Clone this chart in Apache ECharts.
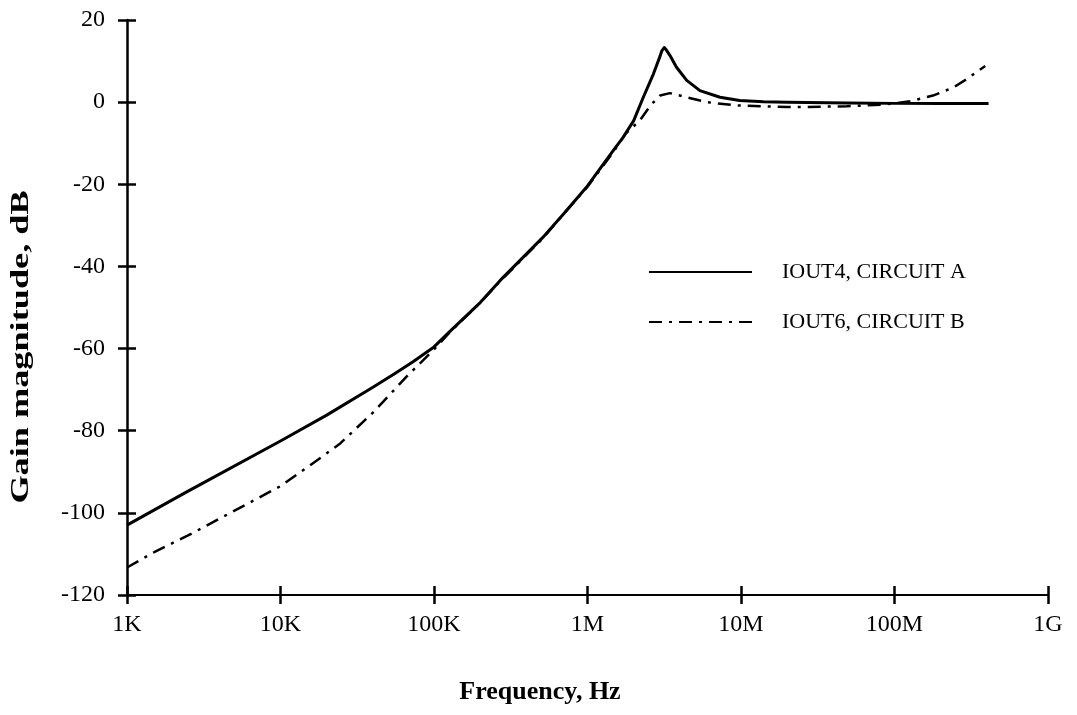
<!DOCTYPE html>
<html>
<head>
<meta charset="utf-8">
<script src="https://cdn.jsdelivr.net/npm/echarts@6/dist/echarts.min.js"></script>
<style>
html,body{margin:0;padding:0;background:#fff;}
#chart{width:1077px;height:715px;}
</style>
</head>
<body>
<div id="chart"></div>
<script>
// ---- data ----
var seriesNames = ['IOUT4, CIRCUIT A', 'IOUT6, CIRCUIT B'];
var xTickLabels = ['1K', '10K', '100K', '1M', '10M', '100M', '1G'];
var yTicks = [-120, -100, -80, -60, -40, -20, 0, 20];

var freqA = [1e3, 2.45e3, 1e4, 2e4, 4e4, 5.5e4, 7.3e4, 1e5, 1.27e5, 2e5, 2.7e5, 5.1e5, 7e5, 1e6, 1.47e6, 1.71e6, 2.0e6, 2.31e6, 2.69e6, 2.97e6, 3.05e6, 3.16e6, 3.25e6, 3.44e6, 3.8e6, 4.43e6, 5.4e6, 7.3e6, 9.8e6, 1.4e7, 2e7, 5e7, 1e8, 2e8, 4.1e8];
var gainA = [-103, -94.9, -82.5, -76.2, -69.4, -66.2, -63.2, -59.6, -55.8, -48.8, -43.4, -33, -27.2, -20.4, -11.8, -8.5, -4.5, 1.2, 6.9, 11.2, 12.5, 13.3, 12.8, 11.4, 8.5, 5.3, 2.8, 1.2, 0.4, 0.1, 0, -0.2, -0.3, -0.3, -0.3];

var freqB = [1e3, 1.55e3, 2.5e3, 1e4, 1.55e4, 2.45e4, 3.55e4, 4e4, 6.6e4, 1e5, 1.27e5, 2e5, 2.7e5, 5.1e5, 7e5, 1e6, 1.47e6, 1.78e6, 2.2e6, 2.57e6, 2.97e6, 3.44e6, 4.2e6, 5.97e6, 9.3e6, 2e7, 2.4e7, 4.9e7, 8.5e7, 1.26e8, 1.78e8, 2.4e8, 2.95e8, 3.9e8];
var gainB = [-113.3, -109.3, -105.5, -93.5, -88.5, -83.1, -77.4, -75.6, -66.9, -60.2, -56, -48.8, -43.6, -33.2, -27.2, -20.6, -12.2, -7.6, -4.4, -0.8, 1.6, 2.2, 1.4, 0, -0.8, -1.2, -1.2, -1.0, -0.6, 0.2, 1.6, 3.5, 5.6, 8.8];

function zip(xs, ys){ var o=[]; for(var i=0;i<xs.length;i++){o.push([xs[i], ys[i]]);} return o; }

var serif = '"Liberation Serif", "Times New Roman", serif';
var chart = echarts.init(document.getElementById('chart'));

var gridCfg = {left:127, right:29, top:20, bottom:120};
var xBase = {type:'log', logBase:10, min:1e3, max:1e9, splitLine:{show:false}, minorTick:{show:false}};
var yBase = {type:'value', min:-120, max:20, interval:20, splitLine:{show:false}};

chart.setOption({
  backgroundColor:'#fff',
  animation:false,
  grid: gridCfg,
  xAxis: [
    Object.assign({}, xBase, {
      position:'bottom',
      axisLine:{show:true, onZero:false, lineStyle:{color:'#000', width:2}},
      axisTick:{show:true, inside:false, length:9, lineStyle:{color:'#000', width:2.5}},
      axisLabel:{show:true, margin:18, color:'#000', fontFamily:serif, fontSize:24,
        formatter:function(v){ var i=Math.round(Math.log10(v))-3; return xTickLabels[i] || ''; }}
    }),
    Object.assign({}, xBase, {
      position:'bottom',
      axisLine:{show:false, onZero:false},
      axisTick:{show:true, inside:true, length:9, lineStyle:{color:'#000', width:2.5}},
      axisLabel:{show:false}
    })
  ],
  yAxis: [
    Object.assign({}, yBase, {
      position:'left',
      axisLine:{show:true, onZero:false, lineStyle:{color:'#000', width:2.5}},
      axisTick:{show:true, inside:false, length:9, lineStyle:{color:'#000', width:2.5}},
      axisLabel:{show:true, margin:22, color:'#000', fontFamily:serif, fontSize:24}
    }),
    Object.assign({}, yBase, {
      position:'left',
      axisLine:{show:false, onZero:false},
      axisTick:{show:true, inside:true, length:9, lineStyle:{color:'#000', width:2.5}},
      axisLabel:{show:false}
    })
  ],
  legend: {
    show:true, orient:'vertical', left:643, top:256,
    itemWidth:103, itemHeight:20, itemGap:28,
    textStyle:{color:'#000', fontFamily:serif, fontSize:22, padding:[0,0,0,25]},
    lineStyle:{width:2},
    itemStyle:{opacity:0},
    data: seriesNames
  },
  series: [
    {name:seriesNames[0], type:'line', xAxisIndex:0, yAxisIndex:0, data:zip(freqA, gainA),
     showSymbol:false, symbol:'none', smooth:false,
     lineStyle:{color:'#000', width:3, type:'solid', join:'round'}, itemStyle:{color:'#000'}},
    {name:seriesNames[1], type:'line', xAxisIndex:0, yAxisIndex:0, data:zip(freqB, gainB),
     showSymbol:false, symbol:'none', smooth:false,
     lineStyle:{color:'#000', width:2.5, type:[13,7,3,7]}, itemStyle:{color:'#000'}}
  ],
  graphic: [
    {type:'text', x:540, y:692, style:{text:'Frequency, Hz', font:'bold 26px ' + serif, fill:'#000', align:'center', verticalAlign:'middle'}},
    {type:'text', x:22, y:347, rotation:Math.PI/2, scaleX:1.45, style:{text:'Gain magnitude, dB', font:'bold 25px ' + serif, fill:'#000', align:'center', verticalAlign:'middle'}}
  ]
});
</script>
</body>
</html>
